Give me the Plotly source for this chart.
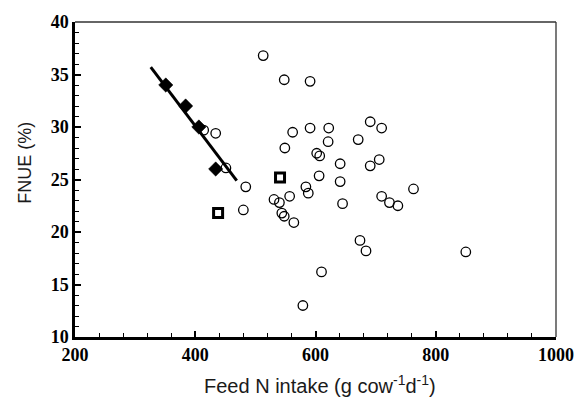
import plotly.graph_objects as go

# Open circles (other studies)
circle_x = [513, 548, 591, 414, 434, 562, 591, 622, 691, 710, 549, 621, 671, 602, 607,
            641, 691, 706, 451, 606, 484, 641, 763, 584, 588, 557, 531, 540, 645, 710,
            723, 737, 480, 544, 548, 564, 674, 684, 850, 610, 579]
circle_y = [36.8, 34.5, 34.35, 29.7, 29.4, 29.5, 29.9, 29.9, 30.5, 29.9, 28.0, 28.6, 28.8, 27.5, 27.25,
            26.5, 26.3, 26.9, 26.1, 25.35, 24.3, 24.8, 24.1, 24.3, 23.7, 23.4, 23.1, 22.8, 22.7, 23.4,
            22.8, 22.5, 22.1, 21.8, 21.5, 20.9, 19.2, 18.2, 18.1, 16.2, 13.0]

# Filled diamonds
diamond_x = [351, 384, 406, 434]
diamond_y = [34.0, 32.0, 30.0, 26.0]

# Open squares
square_x = [438, 541]
square_y = [21.8, 25.2]

# Regression line end points
line_x = [326, 469]
line_y = [35.7, 24.9]

x_ticks = [200, 400, 600, 800, 1000]
y_ticks = [10, 15, 20, 25, 30, 35, 40]

fig = go.Figure()
fig.add_trace(go.Scatter(x=circle_x, y=circle_y, mode="markers",
                         marker=dict(symbol="circle-open", size=9.5, color="black",
                                     line=dict(width=1.3, color="black"))))
fig.add_trace(go.Scatter(x=line_x, y=line_y, mode="lines",
                         line=dict(color="black", width=3)))
fig.add_trace(go.Scatter(x=diamond_x, y=diamond_y, mode="markers",
                         marker=dict(symbol="diamond", size=11, color="black",
                                     line=dict(width=0.5, color="black"))))
fig.add_trace(go.Scatter(x=square_x, y=square_y, mode="markers",
                         marker=dict(symbol="square", size=9, color="white",
                                     line=dict(width=3, color="black"))))

tickfont = dict(family="Liberation Serif", size=18, color="black")

fig.update_xaxes(range=[200, 1000], tickvals=x_ticks, ticktext=[f"<b>{v}</b>" for v in x_ticks],
                 showgrid=False, zeroline=False, showline=True, linewidth=2.5, linecolor="black",
                 ticks="inside", ticklen=6, tickwidth=1.5, tickcolor="black", tickfont=tickfont,
                 minor=dict(ticks="inside", dtick=40, ticklen=4, tickwidth=1.3, tickcolor="black"))
fig.update_yaxes(range=[10, 40], tickvals=y_ticks, ticktext=[f"<b>{v}</b>" for v in y_ticks],
                 showgrid=False, zeroline=False, showline=True, linewidth=2.5, linecolor="black",
                 ticks="inside", ticklen=6, tickwidth=1.5, tickcolor="black", tickfont=tickfont,
                 minor=dict(ticks="inside", dtick=1, ticklen=4, tickwidth=1.3, tickcolor="black"))

fig.add_shape(type="line", xref="paper", yref="paper", x0=0, x1=1, y0=1, y1=1,
              line=dict(color="#333333", width=1.3))
fig.add_shape(type="line", xref="paper", yref="paper", x0=1, x1=1, y0=0, y1=1,
              line=dict(color="#333333", width=1.3))

fig.add_annotation(text="Feed N intake (g cow<sup>-1</sup>d<sup>-1</sup>)", xref="paper", yref="paper",
                   x=0.51, y=-0.198, xanchor="center", yanchor="bottom", showarrow=False,
                   font=dict(family="Liberation Sans", size=20, color="#1a1a1a"))
fig.add_annotation(text="FNUE (%)", xref="paper", yref="paper", textangle=-90,
                   x=-0.103, y=0.555, xanchor="center", yanchor="middle", showarrow=False,
                   font=dict(family="Liberation Sans", size=18, color="#1a1a1a"))

fig.update_layout(width=586, height=398, showlegend=False,
                  margin=dict(l=75, r=25, t=16, b=61),
                  plot_bgcolor="white", paper_bgcolor="white")

fig.write_html("out.html", config={"displayModeBar": False},
               post_script="document.body.style.margin='0';")
